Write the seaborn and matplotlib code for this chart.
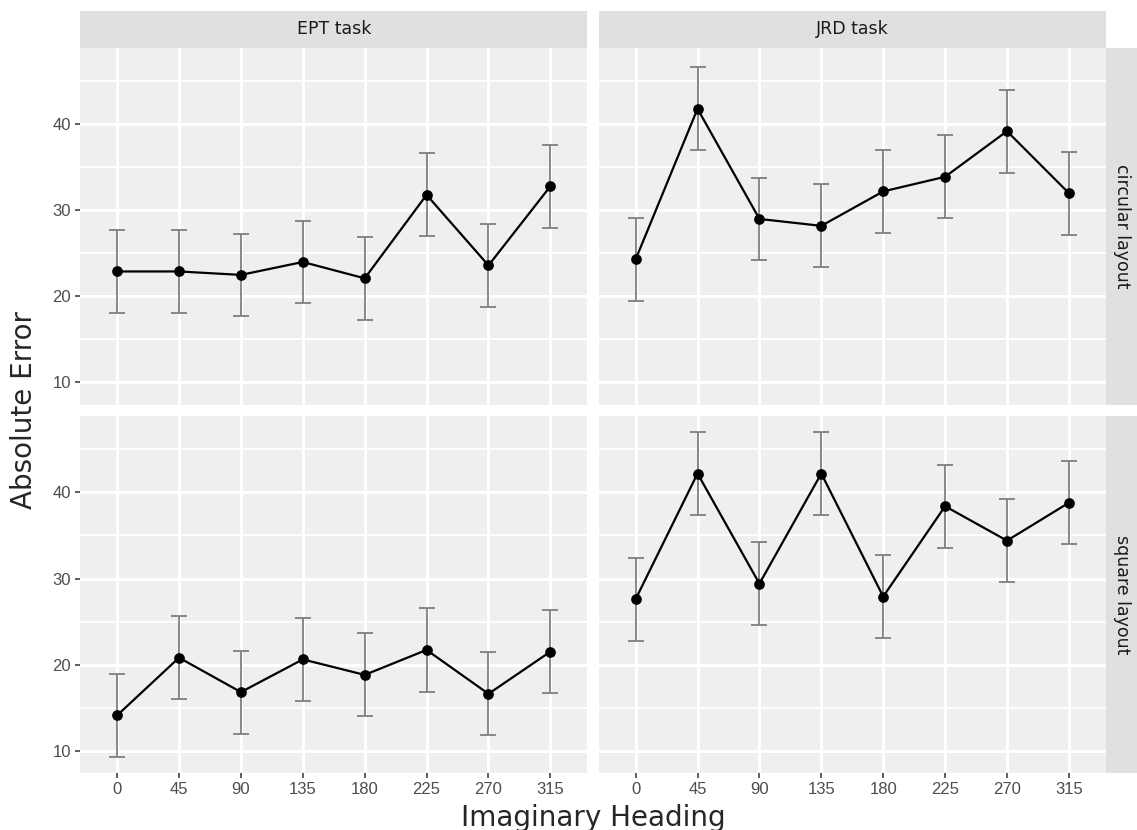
import numpy as np
import pandas as pd
import matplotlib
matplotlib.use("Agg")
import matplotlib.pyplot as plt
from matplotlib.patches import Rectangle
import seaborn as sns

# values
headings = [0, 45, 90, 135, 180, 225, 270, 315]
tasks = ["EPT task", "JRD task"]
layouts = ["circular layout", "square layout"]

ept_circular_mean = [22.9, 22.9, 22.5, 24.0, 22.1, 31.8, 23.6, 32.8]
ept_circular_ci = [4.83, 4.85, 4.81, 4.81, 4.79, 4.81, 4.79, 4.80]

jrd_circular_mean = [24.3, 41.8, 29.0, 28.2, 32.2, 33.9, 39.2, 32.0]
jrd_circular_ci = [4.83, 4.80, 4.81, 4.81, 4.81, 4.82, 4.81, 4.81]

ept_square_mean = [14.1, 20.8, 16.8, 20.6, 18.8, 21.7, 16.6, 21.5]
ept_square_ci = [4.83, 4.83, 4.83, 4.83, 4.83, 4.83, 4.83, 4.83]

jrd_square_mean = [27.6, 42.2, 29.4, 42.2, 27.9, 38.4, 34.4, 38.8]
jrd_square_ci = [4.83, 4.83, 4.83, 4.83, 4.83, 4.83, 4.83, 4.83]

PANEL_BG = "#EFEFEF"
STRIP_BG = "#E0E0E0"
TICK_COLOR = "#4D4D4D"


def build_frame():
    """Stack the four panels into one long table."""
    parts = [
        ("EPT task", "circular layout", ept_circular_mean, ept_circular_ci),
        ("JRD task", "circular layout", jrd_circular_mean, jrd_circular_ci),
        ("EPT task", "square layout", ept_square_mean, ept_square_ci),
        ("JRD task", "square layout", jrd_square_mean, jrd_square_ci),
    ]
    frames = []
    for task, layout, mean, ci in parts:
        frames.append(pd.DataFrame({
            "task": task,
            "layout": layout,
            "heading": headings,
            "mean": mean,
            "ci": ci,
        }))
    return pd.concat(frames, ignore_index=True)


def draw_panel(data, **kws):
    ax = plt.gca()
    pos = np.arange(len(data))
    ax.errorbar(pos, data["mean"], yerr=data["ci"], fmt="none",
                ecolor="#7F7F7F", elinewidth=1.3, capsize=5.5, capthick=1.3, zorder=2)
    sns.pointplot(data=data, x="heading", y="mean", order=headings, color="black",
                  errorbar=None, markersize=6.5, linewidth=1.6, ax=ax, zorder=3)


sns.set_style("white")
df = build_frame()

g = sns.FacetGrid(df, row="layout", col="task", row_order=layouts, col_order=tasks,
                  height=4, aspect=1.4, sharex=True, sharey=True, despine=False)
g.map_dataframe(draw_panel)
g.set_titles(template="")
g.set_axis_labels("", "")

fig = g.figure
fig.set_size_inches(11.37, 8.3)
fig.set_dpi(100)

W, H = 1137, 830
fig.subplots_adjust(left=80 / W, right=1106 / W, top=1 - 47.7 / H, bottom=1 - 773 / H,
                    wspace=11 / 507, hspace=11 / 357)

for i, layout in enumerate(layouts):
    for j, task in enumerate(tasks):
        ax = g.axes[i, j]
        ax.set_facecolor(PANEL_BG)
        for s in ax.spines.values():
            s.set_visible(False)
        ax.set_xlim(-0.6, len(headings) - 0.4)
        ax.set_ylim(7.4, 48.9)
        ax.set_yticks([10, 20, 30, 40])
        ax.set_yticks([15, 25, 35, 45], minor=True)
        ax.grid(True, which="major", color="white", linewidth=2.2, zorder=0)
        ax.grid(True, which="minor", axis="y", color="white", linewidth=1.3, zorder=0)
        ax.set_axisbelow(True)
        ax.tick_params(axis="both", which="major", length=3.5, width=1.1, color="#333333",
                       labelcolor=TICK_COLOR, labelsize=12, pad=3)
        ax.tick_params(axis="both", which="minor", length=0)
        ax.tick_params(axis="x", labelbottom=(i == 1), bottom=(i == 1))
        ax.tick_params(axis="y", labelleft=(j == 0), left=(j == 0))
        for lab in ax.get_xticklabels() + ax.get_yticklabels():
            lab.set_fontfamily("Liberation Sans")
        ax.set_xlabel("")
        ax.set_ylabel("")

        # ggplot-style strips
        if i == 0:
            ax.add_patch(Rectangle((0, 1), 1, 36.7 / 357.3, transform=ax.transAxes,
                                   facecolor=STRIP_BG, edgecolor="none", clip_on=False))
            ax.text(0.5, 1 + 18.3 / 357.3, task, transform=ax.transAxes, ha="center",
                    va="center", fontsize=12.5, color="#1A1A1A")
        if j == 1:
            ax.add_patch(Rectangle((1, 0), 31 / 507, 1, transform=ax.transAxes,
                                   facecolor=STRIP_BG, edgecolor="none", clip_on=False))
            ax.text(1 + 15.5 / 507, 0.5, layout, transform=ax.transAxes, ha="center",
                    va="center", rotation=-90, fontsize=12.5, color="#1A1A1A")

fig.text(593 / W, 4 / H, "Imaginary Heading", ha="center", va="baseline", fontsize=20)
fig.text(24 / W, 1 - 410 / H, "Absolute Error", ha="center", va="center",
         rotation=90, fontsize=20)

fig.savefig("out.png", dpi=100)
